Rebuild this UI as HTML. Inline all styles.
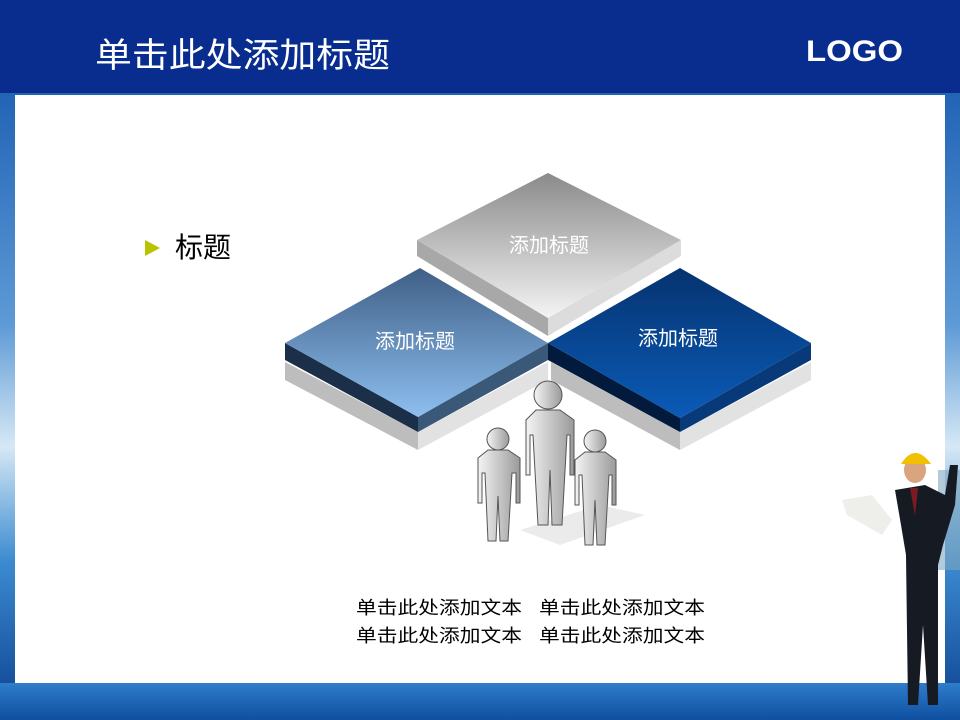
<!DOCTYPE html>
<html><head><meta charset="utf-8"><style>
body{margin:0;width:960px;height:720px;overflow:hidden;font-family:"Liberation Sans","Noto Sans CJK SC",sans-serif;}
</style></head><body>
<svg width="960" height="720" viewBox="0 0 960 720" xmlns="http://www.w3.org/2000/svg" style="display:block">
<defs>
<linearGradient id="bg" x1="0" y1="0" x2="0" y2="1">
<stop offset="0" stop-color="#0a4ea8"/><stop offset="0.45" stop-color="#5d9ad6"/><stop offset="0.62" stop-color="#d6e8f5"/><stop offset="0.78" stop-color="#3b8bd0"/><stop offset="1" stop-color="#0b3f8e"/></linearGradient>
<linearGradient id="bot" x1="0" y1="0" x2="0" y2="1"><stop offset="0" stop-color="#2f7dcc"/><stop offset="1" stop-color="#0f4fa0"/></linearGradient>
<linearGradient id="gtop" x1="0" y1="0" x2="0" y2="1"><stop offset="0" stop-color="#8a8a8a"/><stop offset="1" stop-color="#f4f4f4"/></linearGradient>
<linearGradient id="lblue" x1="0" y1="0" x2="0" y2="1"><stop offset="0" stop-color="#3f5f86"/><stop offset="1" stop-color="#8dbff0"/></linearGradient>
<linearGradient id="rblue" x1="0" y1="0" x2="0" y2="1"><stop offset="0" stop-color="#06336f"/><stop offset="1" stop-color="#0a5bb8"/></linearGradient>
<linearGradient id="person" x1="0" y1="0" x2="1" y2="0"><stop offset="0" stop-color="#f4f4f4"/><stop offset="1" stop-color="#9a9a9a"/></linearGradient>
</defs>
<rect width="960" height="720" fill="url(#bg)"/>
<rect y="683" width="960" height="37" fill="url(#bot)"/>
<rect width="960" height="93" fill="#082d8e"/>
<text x="95" y="67" font-size="34" fill="#fff" textLength="295" lengthAdjust="spacingAndGlyphs">单击此处添加标题</text>
<text x="806" y="61" font-size="30" font-weight="bold" fill="#fff" textLength="97" lengthAdjust="spacingAndGlyphs">LOGO</text>
<rect x="15" y="95" width="930" height="588" fill="#fff"/>
<polygon points="145,240 160,248 145,256" fill="#b8c400"/>
<text x="175" y="257" font-size="28" fill="#000">标题</text>
<polygon points="285,362 418,432 418,450 285,380" fill="#bdbdbd"/>
<polygon points="418,432 548,362 548,380 418,450" fill="#e2e2e2"/>
<polygon points="551,362 680,432 680,450 551,380" fill="#bdbdbd"/>
<polygon points="680,432 811,362 811,380 680,450" fill="#e2e2e2"/>
<polygon points="417,240 548,318 548,336 417,256" fill="#a8a8a8"/>
<polygon points="548,318 681,240 681,256 548,336" fill="#dcdcdc"/>
<polygon points="548,173 681,240 548,318 417,240" fill="url(#gtop)"/>
<text x="549" y="252" font-size="20" fill="#fff" text-anchor="middle">添加标题</text>
<polygon points="285,343 418,417 418,432 285,360" fill="#1c2f48"/>
<polygon points="418,417 548,343 548,360 418,432" fill="#3a5878"/>
<polygon points="285,343 420,268 548,343 418,417" fill="url(#lblue)"/>
<text x="415" y="348" font-size="20" fill="#fff" text-anchor="middle">添加标题</text>
<polygon points="548,343 680,418 680,432 548,360" fill="#021a3c"/>
<polygon points="680,418 811,343 811,360 680,432" fill="#083a7a"/>
<polygon points="548,343 680,268 811,343 680,418" fill="url(#rblue)"/>
<text x="678" y="345" font-size="20" fill="#fff" text-anchor="middle">添加标题</text>
<polygon points="520,530 600,505 645,515 560,545" fill="#ddd" opacity="0.6"/>
<g fill="url(#person)" stroke="#555" stroke-width="1">
<circle cx="498" cy="439" r="11"/>
<path d="M488,450 h20 l12,8 v45 l-4,0 v-30 l-4,0 l-4,68 h-8 l-2,-45 l-2,45 h-8 l-3,-68 h-3 v30 h-4 v-45 z"/>
<circle cx="548" cy="395" r="14"/>
<path d="M536,410 h24 l14,10 v55 h-4 v-40 h-3 l-5,90 h-10 l-2,-55 l-2,55 h-10 l-5,-90 h-3 v40 h-4 v-55 z"/>
<circle cx="595" cy="441" r="11"/>
<path d="M585,452 h20 l11,8 v45 h-4 v-30 h-3 l-4,70 h-8 l-2,-45 l-2,45 h-8 l-3,-70 h-3 v30 h-4 v-45 z"/>
</g>
<g font-size="18" fill="#000">
<text x="356" y="614" textLength="166" lengthAdjust="spacingAndGlyphs">单击此处添加文本</text>
<text x="539" y="614" textLength="166" lengthAdjust="spacingAndGlyphs">单击此处添加文本</text>
<text x="356" y="642" textLength="166" lengthAdjust="spacingAndGlyphs">单击此处添加文本</text>
<text x="539" y="642" textLength="166" lengthAdjust="spacingAndGlyphs">单击此处添加文本</text>
</g>
<g>
<rect x="938" y="470" width="22" height="100" fill="#7fa7c0" opacity="0.6"/>
<path d="M895,490 l30,-5 l20,10 l5,-30 l8,0 l-3,40 l-12,40 l-5,20 l0,140 l-10,0 l-5,-80 l-5,80 l-10,0 l-2,-150 l-5,-30 z" fill="#161a22"/>
<ellipse cx="915" cy="470" rx="11" ry="13" fill="#d9a47e"/>
<path d="M901,464 q14,-22 30,0 z" fill="#f1c000"/>
<path d="M842,500 l30,-5 l20,25 l-10,15 l-35,-20 z" fill="#eeeeea"/>
<path d="M910,488 l8,0 l-3,28 z" fill="#7a1a22"/>
</g>
</svg>
</body></html>
